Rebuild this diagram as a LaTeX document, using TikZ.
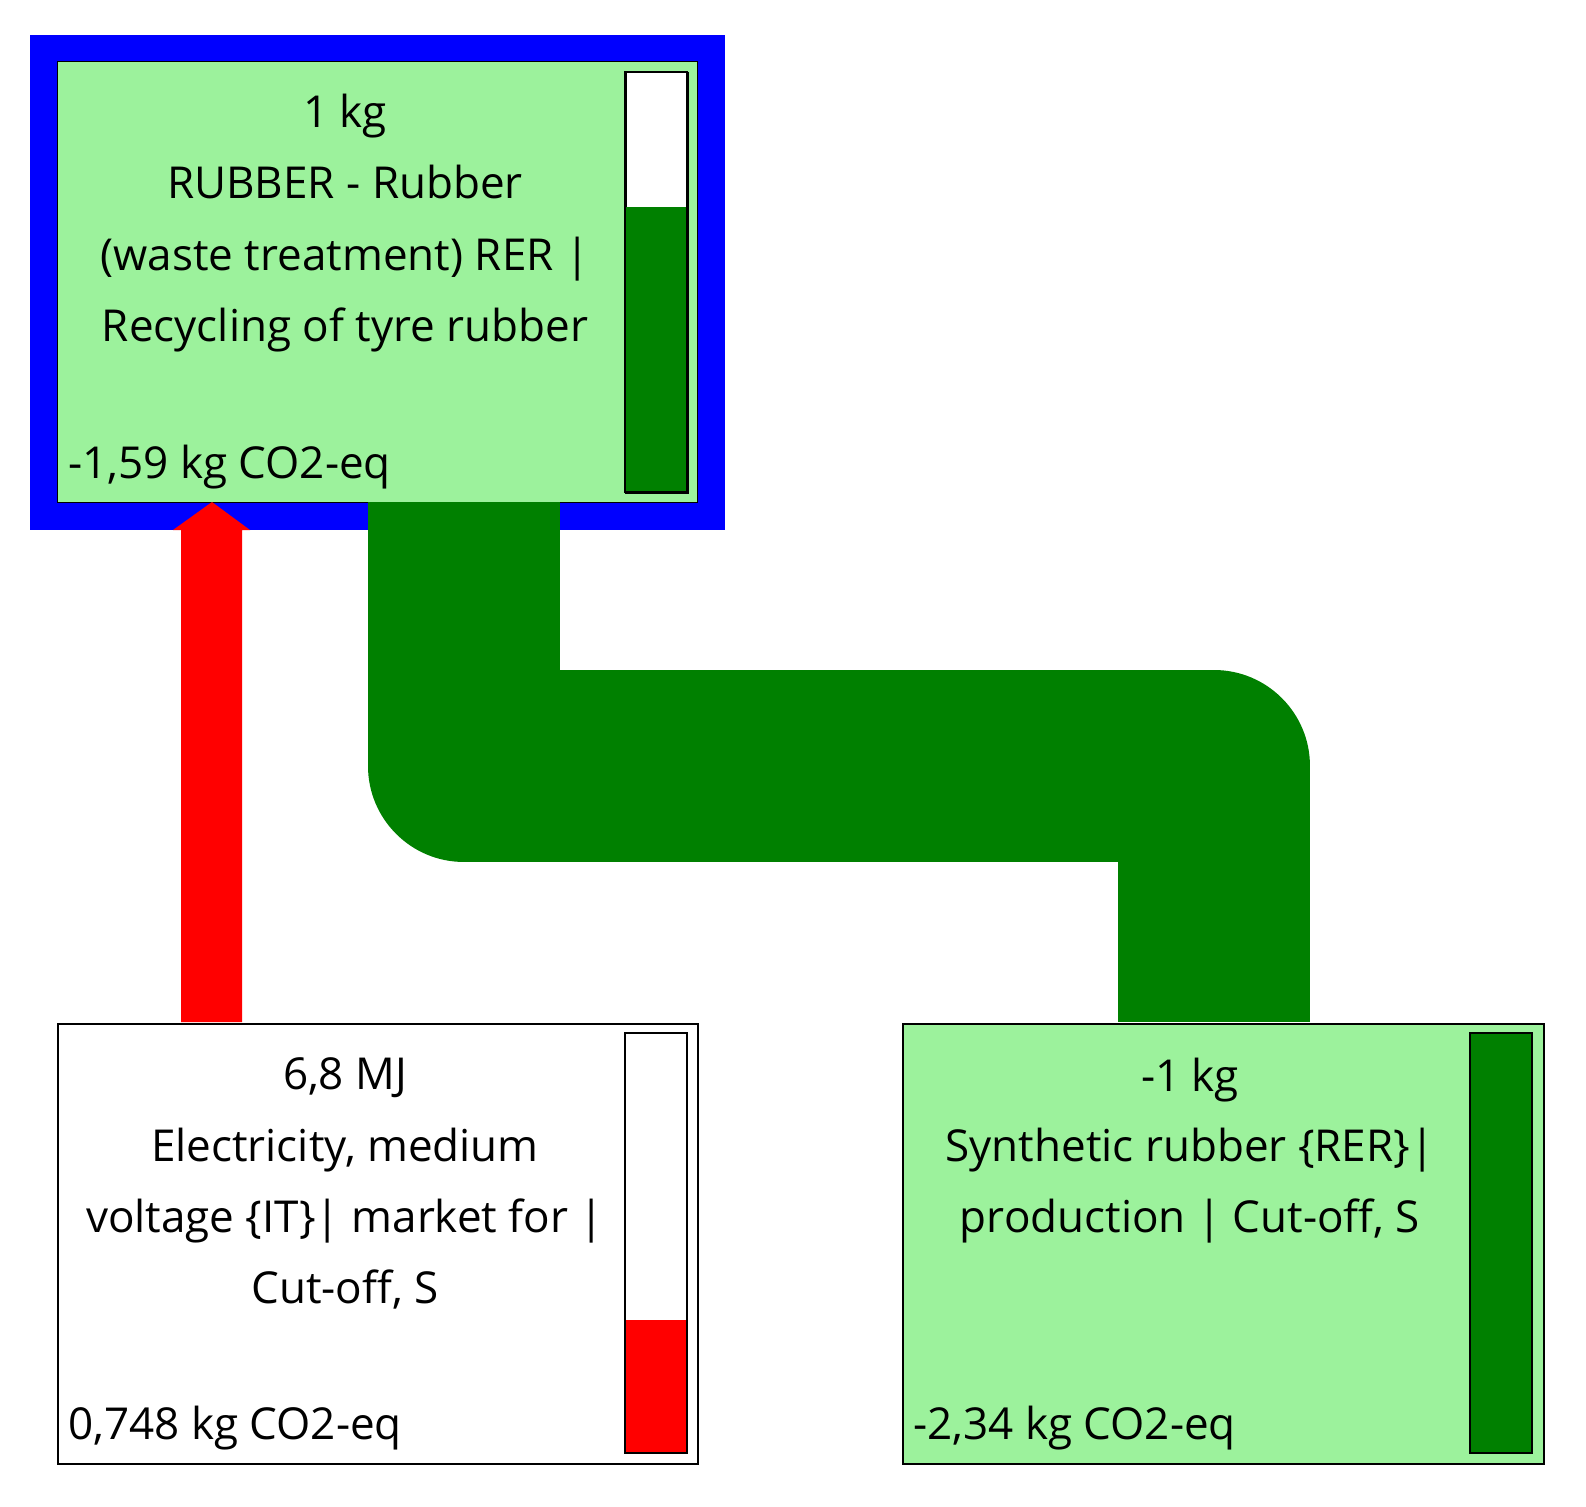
\documentclass[tikz,border=0pt]{standalone}
\usepackage{fontspec}
\setmainfont{Open Sans}
\definecolor{lg}{RGB}{156,242,156}
\definecolor{dg}{RGB}{0,128,0}
\begin{document}
\begin{tikzpicture}[x=1pt,y=-1pt,
  txt/.style={font=\fontsize{44}{50}\selectfont,inner sep=0pt,anchor=base},
  ltxt/.style={txt,anchor=base west},
  box/.style={draw=black,line width=1.5pt}]
\useasboundingbox (0,0) rectangle (1586,1506);
% top box
\fill[blue] (30,35) rectangle (725,530);
\fill[lg] (57,62) rectangle (697,502);
\draw[line width=1pt] (57,62) rectangle (697,502);
\node[box,fill=white,minimum width=62pt,minimum height=420pt,inner sep=0pt,anchor=north west] (bar1) at (625,72) {};
\fill[dg] (626,207) rectangle (686,491);
\draw[line width=1.5pt] (625,72) rectangle (687,492);
\node[txt] (t1) at (345,128) {1 kg};
\node[txt] (t2) at (345,199) {RUBBER - Rubber};
\node[txt] (t3) at (345,270) {(waste treatment) RER |};
\node[txt] (t4) at (345,341) {Recycling of tyre rubber};
\node[ltxt] (t5) at (68,478) {-1,59 kg CO2-eq};
% bottom left box
\node[box,fill=white,minimum width=640pt,minimum height=440pt,inner sep=0pt,anchor=north west] (bl) at (57,1023) {};
\draw[line width=1.5pt] (625,1033) rectangle (687,1453);
\fill[red] (626,1320) rectangle (686,1452);
\node[txt] (b1) at (345,1089) {6,8 MJ};
\node[txt] (b2) at (345,1161) {Electricity, medium};
\node[txt] (b3) at (345,1232) {voltage \{IT\}| market for |};
\node[txt] (b4) at (345,1303) {Cut-off, S};
\node[ltxt] (b5) at (68,1439) {0,748 kg CO2-eq};
% bottom right box
\node[box,fill=lg,minimum width=641pt,minimum height=440pt,inner sep=0pt,anchor=north west] (br) at (902,1023) {};
\fill[dg] (1470,1033) rectangle (1532,1453);
\draw[line width=1.5pt] (1470,1033) rectangle (1532,1453);
\node[txt] (r1) at (1190,1091) {-1 kg};
\node[txt] (r2) at (1190,1161) {Synthetic rubber \{RER\}|};
\node[txt] (r3) at (1190,1232) {production | Cut-off, S};
\node[ltxt] (r5) at (913,1439) {-2,34 kg CO2-eq};
% green flow
\coordinate (g0) at (464,502);
\coordinate (g3) at (1214,1022);
\draw[dg,line width=192pt,line join=round] (g0) -- (464,766) -- (1214,766) -- (g3);
% red arrow
\coordinate (a0) at (212,1022);
\fill[red] (181,1022) -- (181,530) -- (173,530) -- (212,502) -- (250,530) -- (242,530) -- (242,1022) -- cycle;
\end{tikzpicture}
\end{document}
